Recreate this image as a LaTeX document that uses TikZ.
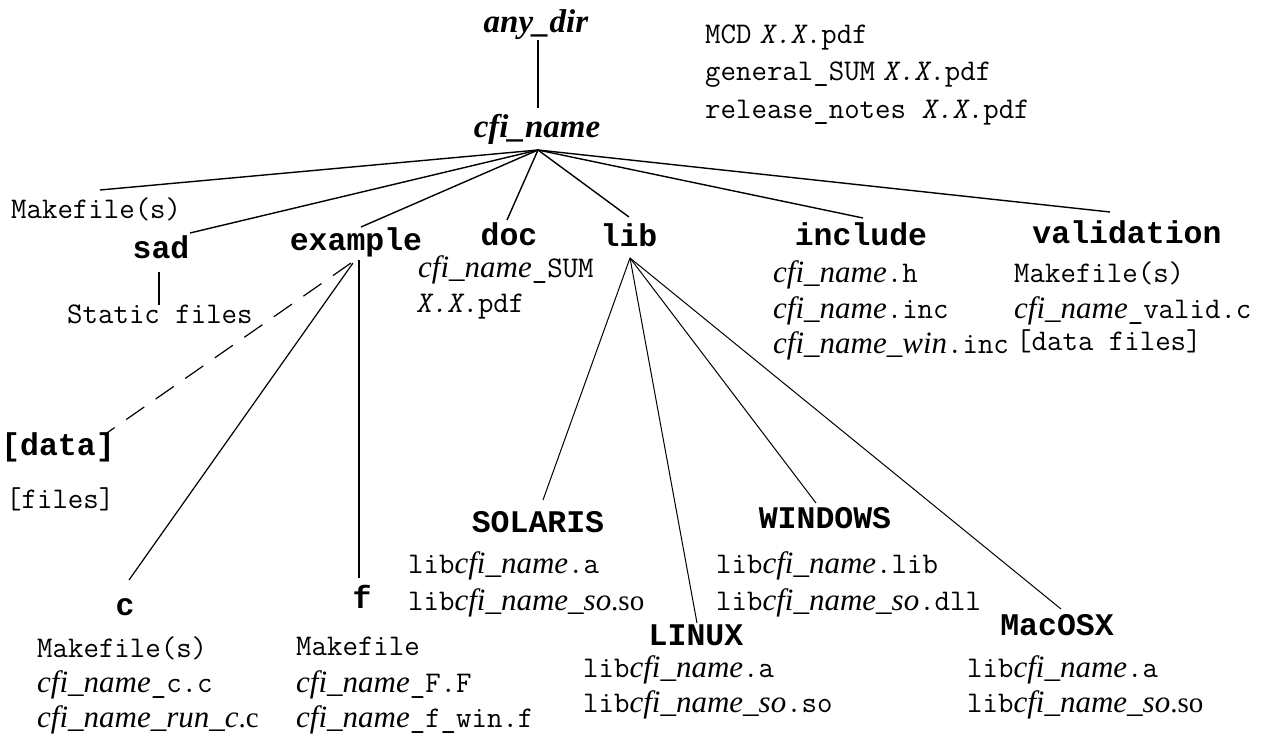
\documentclass[tikz,border=0pt]{standalone}
\usepackage{fontspec}
\setmainfont{Liberation Serif}
\setmonofont{Latin Modern Mono}
\newfontfamily\bmono{Liberation Mono}
\newfontfamily\slmono[FakeSlant=0.2]{Latin Modern Mono}
\newcommand\cfn[1]{{\fontsize{31}{31}\selectfont\rmfamily\itshape #1}}
\newcommand\rmn[1]{{\fontsize{29}{29}\selectfont\rmfamily #1}}
\newcommand\xx{{\slmono X.X}}
\tikzset{
  file/.style={font=\fontsize{30}{30}\selectfont\ttfamily, inner sep=0pt, anchor=base west},
  dirn/.style={font=\fontsize{31.5}{31.5}\selectfont\bmono\bfseries, inner sep=0pt, anchor=base},
  ttl/.style={font=\fontsize{33}{33}\selectfont\rmfamily\bfseries\itshape, inner sep=0pt, anchor=base},
  main/.style={line width=1.4pt},
  thin/.style={line width=1pt},
  vert/.style={line width=2pt},
}
\begin{document}
\begin{tikzpicture}[x=1pt,y=-1pt]
\useasboundingbox (0,0) rectangle (1270,744);
% titles
\node[ttl] (any) at (536,32) {any\_dir};
\node[ttl] (cfi) at (537,137) {cfi\_name};
% top right docs
\node[file] (mcd) at (705,43) {MCD\hspace{8pt}\xx.pdf};
\node[file] (gen) at (705,80) {general\_SUM\hspace{8pt}\xx.pdf};
\node[file] (rel) at (705,118) {release\_notes \xx.pdf};
% first level
\node[file] (mk) at (11,218) {Makefile(s)};
\node[dirn] (sad) at (161,258) {sad};
\node[dirn] (ex) at (356,250) {example};
\node[dirn] (doc) at (509,245) {doc};
\node[dirn] (lib) at (629,246) {lib};
\node[dirn] (inc) at (861,245) {include};
\node[dirn] (val) at (1127,243) {validation};
% sad
\node[file] (stat) at (67,323) {Static files};
% doc
\node[file] (sum) at (418,277) {\cfn{cfi\_name}\_SUM};
\node[file] (sumv) at (416,312) {\xx.pdf};
% include
\node[file] (inch) at (773,282) {\cfn{cfi\_name}.h};
\node[file] (inci) at (773,318) {\cfn{cfi\_name}.inc};
\node[file] (incw) at (773,353) {\cfn{cfi\_name\_win}.inc};
% validation
\node[file] (valm) at (1014,282) {Makefile(s)};
\node[file] (valc) at (1014,318) {\cfn{cfi\_name}\_valid.c};
\node[file] (vald) at (1016,350) {[data files]};
% example
\node[dirn] (data) at (58,455) {[data]};
\node[file] (files) at (6,508) {[files]};
\node[dirn] (c) at (125,615) {c};
\node[dirn] (f) at (362,608) {f};
\node[file] (cm) at (37,657) {Makefile(s)};
\node[file] (cc) at (37,692) {\cfn{cfi\_name}\_c.c};
\node[file] (cr) at (37,727) {\cfn{cfi\_name\_run\_c}\rmn{.c}};
\node[file] (fm) at (296,655) {Makefile};
\node[file] (ff) at (296,692) {\cfn{cfi\_name}\_F.F};
\node[file] (fw) at (296,727) {\cfn{cfi\_name}\_f\_win.f};
% lib
\node[dirn] (sol) at (538,532) {SOLARIS};
\node[file] (sola) at (408,573) {lib\cfn{cfi\_name}.a};
\node[file] (sols) at (408,610) {lib\cfn{cfi\_name\_so}\rmn{.so}};
\node[dirn] (win) at (825,528) {WINDOWS};
\node[file] (winl) at (716,573) {lib\cfn{cfi\_name}.lib};
\node[file] (wind) at (716,610) {lib\cfn{cfi\_name\_so}.dll};
\node[dirn] (lin) at (696,645) {LINUX};
\node[file] (lina) at (583,677) {lib\cfn{cfi\_name}.a};
\node[file] (lins) at (583,712) {lib\cfn{cfi\_name\_so}.so};
\node[dirn] (mac) at (1057,635) {MacOSX};
\node[file] (maca) at (967,677) {lib\cfn{cfi\_name}.a};
\node[file] (macs) at (967,712) {lib\cfn{cfi\_name\_so}\rmn{.so}};
% connector end points
\coordinate (anyb) at (538,40);
\coordinate (cfit) at (538,108);
\coordinate (apex) at (538,150);
\coordinate (mkt) at (100,190);
\coordinate (sadt) at (190,233);
\coordinate (ext) at (361,227);
\coordinate (doct) at (507,220);
\coordinate (libt) at (629,217);
\coordinate (inct) at (863,218);
\coordinate (valt) at (1110,212);
\coordinate (sadb) at (159,272);
\coordinate (statt) at (159,305);
\coordinate (exb) at (359,260);
\coordinate (ft) at (359,578);
\coordinate (exc) at (353,263);
\coordinate (ct) at (129,580);
\coordinate (exd) at (351,263);
\coordinate (datat) at (104,435);
\coordinate (libb) at (630,258);
\coordinate (solt) at (543,500);
\coordinate (lint) at (697,623);
\coordinate (wint) at (816,503);
\coordinate (mact) at (1061,609);
% connectors
\draw[vert] (anyb) -- (cfit);
\foreach \t in {mkt,sadt,ext,doct,libt,inct,valt} \draw[main] (apex) -- (\t);
\draw[vert] (sadb) -- (statt);
\draw[vert] (exb) -- (ft);
\draw[line width=1.2pt] (exc) -- (ct);
\draw[line width=1.2pt, dash pattern=on 22pt off 14pt] (exd) -- (datat);
\foreach \t in {solt,lint,wint,mact} \draw[thin] (libb) -- (\t);
\end{tikzpicture}
\end{document}
